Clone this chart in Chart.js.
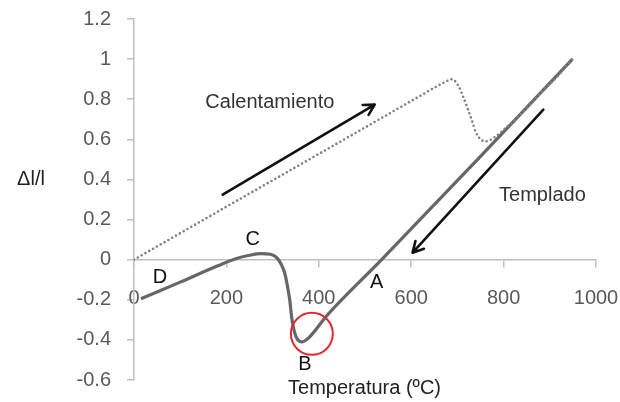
<!DOCTYPE html>
<html><head><meta charset="utf-8">
<script src="https://cdn.jsdelivr.net/npm/chart.js@4.4.0/dist/chart.umd.min.js"></script>
<style>html,body{margin:0;padding:0;background:#fff}#wrap{width:620px;height:402px}</style>
</head><body><div id="wrap"><canvas id="c"></canvas></div>
<script>
/* dilatometría: calentamiento (punteado) + templado (continuo) */
const heatT = [0, 200, 400, 600, 660, 675, 688, 700, 712, 722, 732, 740, 750, 762, 780, 806, 850, 880, 915, 949];
const heatD = [0, 0.264, 0.527, 0.791, 0.870, 0.888, 0.900, 0.875, 0.815, 0.755, 0.69, 0.635, 0.60, 0.59, 0.61, 0.66, 0.755, 0.83, 0.91, 1.0];
const coolT = [15, 100, 180, 220, 250, 275, 295, 308, 318, 326, 332, 337, 342, 350, 363, 378, 417, 536, 748, 949];
const coolD = [-0.195, -0.112, -0.032, 0.005, 0.022, 0.03, 0.027, 0.012, -0.02, -0.065, -0.13, -0.2, -0.3, -0.38, -0.41, -0.39, -0.28, 0, 0.51, 1.0];
const xTicks = [0, 200, 400, 600, 800, 1000];
const yMin = -0.6, yMax = 1.2, yStep = 0.2;

const FONT = "'Liberation Sans', Arial, sans-serif";
const pts = (xs, ys) => xs.map((x,i)=>({x, y: ys[i]}));

// anotaciones en coordenadas de datos
const labels = [
  {t:"Calentamiento", x:294, y:0.783, c:"#333"},
  {t:"Templado", x:884, y:0.319, c:"#333"},
  {t:"C", x:257, y:0.10, c:"#111"},
  {t:"D", x:56, y:-0.09, c:"#111"},
  {t:"A", x:525, y:-0.115, c:"#111"},
  {t:"B", x:370, y:-0.524, c:"#111"},
  {t:"Temperatura (ºC)", x:499, y:-0.64, c:"#222"}
];
const arrows = [
  {x1:192, y1:0.324, x2:521, y2:0.773},
  {x1:886, y1:0.748, x2:603, y2:0.035}
];
const ring = {x:385, y:-0.37, r:21};

const annot = {
  id:"annot",
  afterDatasetsDraw(chart){
    const {ctx, scales:{x, y}} = chart;
    ctx.save();
    ctx.textAlign="center"; ctx.textBaseline="middle";
    ctx.font = "20px "+FONT;
    labels.forEach(l=>{ ctx.fillStyle=l.c; ctx.fillText(l.t, x.getPixelForValue(l.x), y.getPixelForValue(l.y)); });
    ctx.fillStyle="#222";
    ctx.fillText("\u0394l/l", chart.chartArea.left-103, y.getPixelForValue(0.4));
    ctx.strokeStyle="#111"; ctx.lineWidth=2.6; ctx.lineCap="round"; ctx.lineJoin="round";
    arrows.forEach(a=>{
      const x1=x.getPixelForValue(a.x1), y1=y.getPixelForValue(a.y1), x2=x.getPixelForValue(a.x2), y2=y.getPixelForValue(a.y2);
      const ang=Math.atan2(y2-y1, x2-x1), L=12, w=0.5;
      ctx.beginPath(); ctx.moveTo(x1,y1); ctx.lineTo(x2,y2);
      ctx.moveTo(x2-L*Math.cos(ang-w), y2-L*Math.sin(ang-w)); ctx.lineTo(x2,y2);
      ctx.lineTo(x2-L*Math.cos(ang+w), y2-L*Math.sin(ang+w));
      ctx.stroke();
    });
    ctx.strokeStyle="#e0282e"; ctx.lineWidth=2;
    ctx.beginPath(); ctx.arc(x.getPixelForValue(ring.x), y.getPixelForValue(ring.y), ring.r, 0, Math.PI*2); ctx.stroke();
    ctx.restore();
  }
};

const tickFont = {family: FONT, size: 20};
new Chart(document.getElementById("c"), {
  type:"line",
  data:{datasets:[
    {label:"Calentamiento", data:pts(heatT, heatD), borderColor:"#808080", borderWidth:2.6,
     borderDash:[0,4.4], borderCapStyle:"round", pointRadius:0, cubicInterpolationMode:"monotone"},
    {label:"Templado", data:pts(coolT, coolD), borderColor:"#666", borderWidth:3.2,
     pointRadius:0, cubicInterpolationMode:"monotone"}
  ]},
  options:{
    responsive:true, maintainAspectRatio:false, animation:false,
    layout:{padding:{top:19, right:24, bottom:22, left:0}},
    plugins:{legend:{display:false}, tooltip:{enabled:false}},
    scales:{
      x:{type:"linear", min:0, max:1000, position:{y:0},
         afterBuildTicks: s=>{ s.ticks = xTicks.map(v=>({value:v})); },
         afterFit: s=>{ s.paddingLeft = 0; s.paddingRight = 0; },
         ticks:{font:tickFont, color:"#595959", padding:20, maxRotation:0, callback:v=>String(v)},
         grid:{drawOnChartArea:false, tickLength:7, color:"#bfbfbf", lineWidth:1.5},
         border:{color:"#bfbfbf", width:1.5}},
      y:{min:yMin, max:yMax,
         afterFit: s=>{ s.width = 134; s.paddingTop = 0; s.paddingBottom = 0; },
         ticks:{stepSize:yStep, font:tickFont, color:"#595959", padding:16, callback:v=>String(+v.toFixed(1))},
         grid:{drawOnChartArea:false, tickLength:7, color:"#bfbfbf", lineWidth:1.5},
         border:{color:"#bfbfbf", width:1.5}}
    }
  },
  plugins:[annot]
});
</script></body></html>
